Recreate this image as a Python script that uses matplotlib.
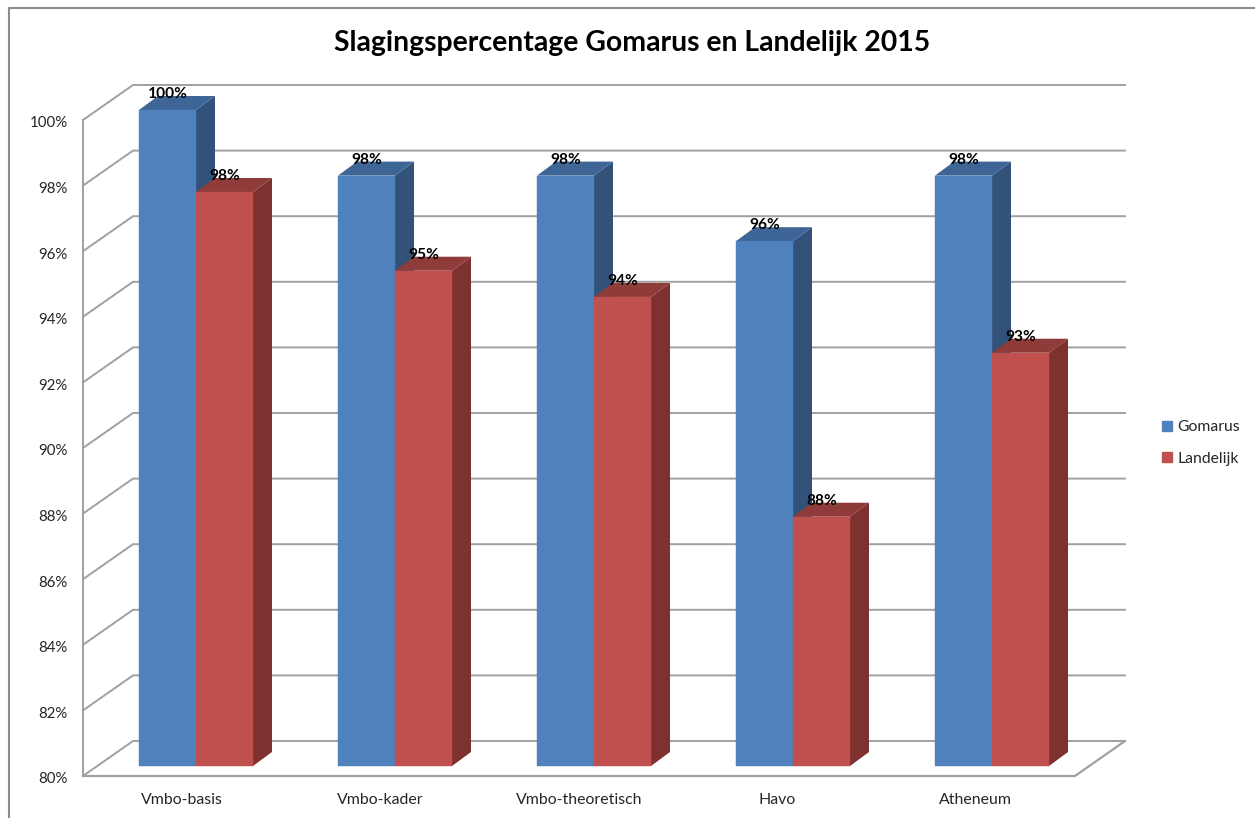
"""Slagingspercentage 2015 as a fake 3D column chart."""

import matplotlib
matplotlib.use("Agg")
import matplotlib.pyplot as plt
from matplotlib.lines import Line2D
from matplotlib.patches import Patch
from matplotlib.transforms import ScaledTranslation

categories = ["Vmbo-basis", "Vmbo-kader", "Vmbo-theoretisch", "Havo", "Atheneum"]
gomarus = [100.0, 98.0, 98.0, 96.0, 98.0]
landelijk = [97.5, 95.1, 94.3, 87.6, 92.6]
y_ticks = list(range(80, 101, 2))

W, H = 1255, 818
LEFT, RIGHT, TOP, BOTTOM = 83, 1075, 120, 776
PX_X = (RIGHT - LEFT) / len(categories)
PX_Y = (BOTTOM - TOP) / 20

GRID = "#A0A0A0"
TEXT = "#262626"
BLUE, BLUE_TOP, BLUE_SIDE = "#4F81BD", "#3D6596", "#32527A"
RED, RED_TOP, RED_SIDE = "#C0504D", "#8E3B39", "#7D3230"

plt.rcParams["font.family"] = ["Lato", "DejaVu Sans"]

fig = plt.figure(figsize=(W / 100, H / 100), dpi=100)
ax = fig.add_axes([LEFT / W, 1 - BOTTOM / H, (RIGHT - LEFT) / W, (BOTTOM - TOP) / H])
ax.set_xlim(0, len(categories))
ax.set_ylim(80, 100)
ax.patch.set_visible(False)
for side in ax.spines.values():
    side.set_visible(False)

# depth of the walls and of the bars, in data units
wall_dx, wall_dy = 50 / PX_X, 35 / PX_Y
bar_dx, bar_dy = 19 / PX_X, 14 / PX_Y
lift = 10 / PX_Y
bar_w = 57 / PX_X
bar_start = 56 / PX_X
pitch = 199 / PX_X  # bars sit slightly wider apart than the floor divided by five
n = len(categories)

# walls and floor
for t in y_ticks:
    ax.plot([0, wall_dx, n + wall_dx], [t, t + wall_dy, t + wall_dy],
            color=GRID, lw=1.4, clip_on=False, zorder=1, solid_joinstyle="miter")
ax.plot([0, 0], [80, 100], color=GRID, lw=1.4, clip_on=False, zorder=1)
ax.plot([0, n, n + wall_dx], [80, 80, 80 + wall_dy], color=GRID, lw=1.6, clip_on=False, zorder=1)


def draw_bar(x, value, front, top, side, z):
    ax.bar(x, value - 80, width=bar_w, bottom=80 + lift, align="edge", color=front,
           edgecolor=front, lw=0.3, clip_on=False, zorder=z + 0.2)
    y0, y1 = 80 + lift, value + lift
    x1 = x + bar_w
    ax.fill([x1, x1 + bar_dx, x1 + bar_dx, x1], [y0, y0 + bar_dy, y1 + bar_dy, y1],
            color=side, lw=0, clip_on=False, zorder=z)
    ax.fill([x, x + bar_dx, x1 + bar_dx, x1], [y1, y1 + bar_dy, y1 + bar_dy, y1],
            color=top, lw=0, clip_on=False, zorder=z)
    ax.text(x + bar_w / 2, y1 + 16 / PX_Y, f"{value:.0f}%", ha="center", va="center",
            fontsize=11.2, color="black", fontweight="bold", zorder=10)


for i in range(n):
    draw_bar(i * pitch + bar_start, gomarus[i], BLUE, BLUE_TOP, BLUE_SIDE, 2 + i)
    draw_bar(i * pitch + bar_start + bar_w, landelijk[i], RED, RED_TOP, RED_SIDE, 2.5 + i)

ax.set_xticks([i + 0.5 for i in range(n)], categories)
ax.set_yticks(y_ticks, [f"{t}%" for t in y_ticks])
ax.tick_params(axis="x", length=0, pad=12.2, labelsize=11.4, labelcolor=TEXT)
ax.tick_params(axis="y", length=0, pad=11, labelsize=10.8, labelcolor=TEXT)
down = ScaledTranslation(0, -1.3 / 72, fig.dpi_scale_trans)
for label in ax.get_yticklabels():
    label.set_transform(label.get_transform() + down)

ax.legend(handles=[Patch(color=BLUE, label="Gomarus"), Patch(color=RED, label="Landelijk")],
          loc="center left", bbox_to_anchor=(1148 / W, 1 - 443 / H), bbox_transform=fig.transFigure,
          frameon=False, fontsize=11.3, labelcolor=TEXT, handlelength=0.6, handleheight=0.6,
          handletextpad=0.35, labelspacing=1.1)

fig.text(632.5 / W, 1 - 42.5 / H, "Slagingspercentage Gomarus en Landelijk 2015", ha="center", va="center",
         fontsize=20.45, fontweight="bold", color="black")

# chart frame, runs off the image at right and bottom
fig.add_artist(Line2D([9 / W, 9 / W, 1], [0, 1 - 7.5 / H, 1 - 7.5 / H], color="#8C8C8C", lw=1.5))

fig.savefig("out.png", dpi=100)
